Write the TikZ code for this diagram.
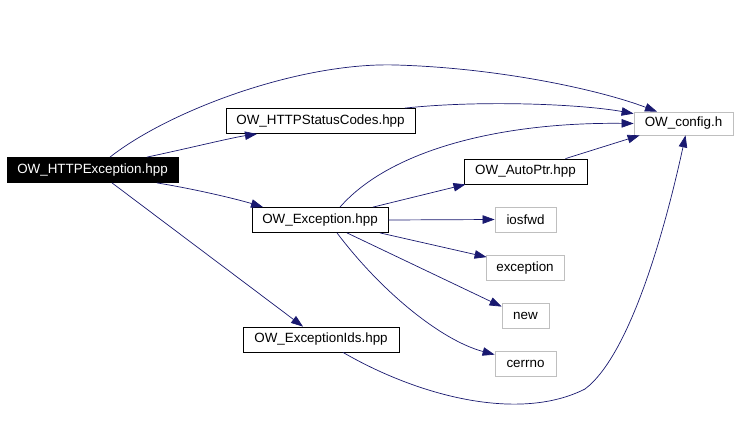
\documentclass[tikz,border=0pt]{standalone}
\usepackage{fontspec}
\setmainfont{Liberation Sans}
\usetikzlibrary{arrows.meta}
\definecolor{edgeblue}{RGB}{25,25,112}
\definecolor{boxgray}{RGB}{191,191,191}
\begin{document}
\begin{tikzpicture}[x=1pt,y=-1pt,
  box/.style={draw=black, line width=0.8pt, fill=white, inner sep=0pt, minimum height=25pt, font=\fontsize{13.4}{15}\selectfont, anchor=center},
  extbox/.style={box, draw=boxgray},
  mainbox/.style={box, fill=black, text=white},
  dep/.style={draw=edgeblue, line width=0.7pt, -{Triangle[length=12pt,width=8.5pt]}}]
\useasboundingbox[fill=white] (0,0) rectangle (739,447);
\node[mainbox, minimum width=171pt] (http) at (92.5,170) {OW\_HTTPException.hpp};
\node[box, minimum width=189pt] (status) at (320.5,121) {OW\_HTTPStatusCodes.hpp};
\node[box, minimum width=136pt] (exc) at (320,220) {OW\_Exception.hpp};
\node[box, minimum width=156pt] (ids) at (321,339.5) {OW\_ExceptionIds.hpp};
\node[box, minimum width=123pt] (auto) at (525.5,171.5) {OW\_AutoPtr.hpp};
\node[extbox, minimum width=99pt, minimum height=23pt] (config) at (683.5,123.5) {OW\_config.h};
\node[extbox, minimum width=61pt] (iosfwd) at (525.5,219.5) {iosfwd};
\node[extbox, minimum width=78pt] (exception) at (525,268) {exception};
\node[extbox, minimum width=47pt] (new) at (525.5,315.5) {new};
\node[extbox, minimum width=61pt] (cerrno) at (525.5,363.5) {cerrno};
\coordinate (top) at (396,65);
\coordinate (bot) at (585,389);
\draw[dep] ([xshift=17.5pt]http.north) .. controls (170,110) and (300,62) .. (top)
  .. controls (500,68) and (600,90) .. ([xshift=-26.5pt]config.north);
\draw[dep] ([xshift=54.5pt]http.north) .. controls (190,148) and (230,138) .. ([xshift=-63.5pt]status.south);
\draw[dep] ([xshift=64.5pt]http.south) .. controls (200,190) and (240,200) .. ([xshift=-57pt]exc.north);
\draw[dep] ([xshift=19.5pt]http.south) -- ([xshift=-18pt]ids.north);
\draw[dep] ([xshift=84.5pt]status.north) .. controls (480,100) and (580,104) .. ([yshift=-2pt]config.north west);
\draw[dep] ([xshift=20pt]exc.north) .. controls (390,150) and (500,122) .. (config.west);
\draw[dep] ([xshift=53pt]exc.north) -- ([xshift=-60pt]auto.south);
\draw[dep] ([xshift=40pt]auto.north) -- ([xshift=6pt]config.south west);
\draw[dep] (exc.east) -- (iosfwd.west);
\draw[dep] ([xshift=60pt]exc.south) -- ([xshift=1pt,yshift=-2pt]exception.north west);
\draw[dep] ([xshift=27pt]exc.south) -- ([yshift=-4pt]new.north west);
\draw[dep] ([xshift=17pt]exc.south) .. controls (380,290) and (440,340) .. ([yshift=-4pt]cerrno.north west);
\draw[dep] ([xshift=22pt]ids.south) .. controls (420,397) and (520,422) .. (bot)
  .. controls (630,355) and (665,230) .. ([xshift=2pt]config.south);
\end{tikzpicture}
\end{document}
